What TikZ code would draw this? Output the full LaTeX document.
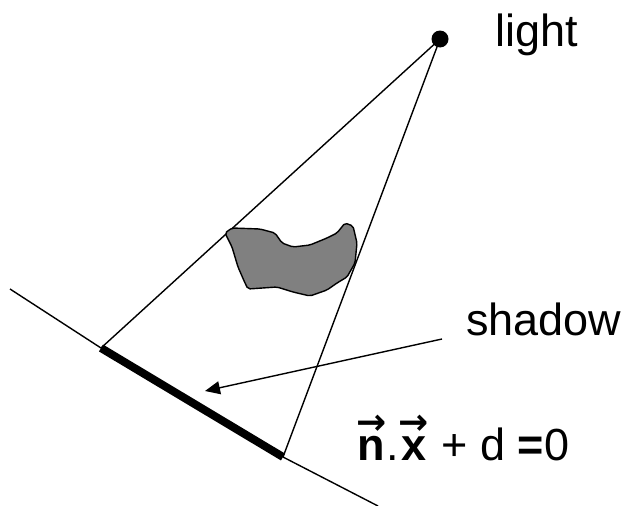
\documentclass[tikz,border=0pt]{standalone}
\usepackage{fontspec}
\setmainfont{Liberation Sans}
\newfontfamily\arrowfont{DejaVu Sans}
\usetikzlibrary{arrows.meta}
\newcommand{\vecb}[1]{\ooalign{\hfil\raisebox{26pt}{\arrowfont\bfseries\fontsize{36}{36}\selectfont →}\hfil\cr\hfil\textbf{#1}\hfil\cr}}

\begin{document}
\begin{tikzpicture}[
  x=1pt, y=-1pt,
  ray/.style={line width=1.4pt},
  label/.style={font=\fontsize{45}{50}\selectfont, inner sep=0pt},
  arrow/.style={-{Triangle[length=15pt, width=13pt]}, line width=1.4pt},
]
  \useasboundingbox (0,0) rectangle (632,506);

  % plane and shadow
  \coordinate (planeA) at (10,289);
  \coordinate (planeB) at (378,506);
  \coordinate (shadowA) at (101,348);
  \coordinate (shadowB) at (283,457);
  \draw[ray] (planeA) -- (shadowA);
  \draw[ray] (shadowB) -- (planeB);
  \draw[line width=8pt] (shadowA) -- (shadowB);

  % light source
  \node[circle, fill=black, inner sep=0pt, minimum size=17pt] (light) at (440,39) {};
  \node[label, anchor=base west] (lighttext) at (495,46) {light};
  \draw[ray] (light.center) -- (shadowA);
  \draw[ray] (light.center) -- (shadowB);

  % occluder
  \draw[ray, fill=black!50, rounded corners=2pt]
    (225,233) -- (232,228) -- (260,229) -- (275,233) -- (282,243) -- (293,247)
    -- (310,245) -- (327,238) -- (337,233) -- (345,223) -- (353,226) -- (357,243)
    -- (355,263) -- (347,277) -- (337,283) -- (327,290) -- (310,296) -- (293,292)
    -- (277,287) -- (248,289) -- (245,283) -- (238,267) -- (232,247) -- cycle;

  % labels
  \node[label, anchor=base west] (shadowtext) at (466,335) {shadow};
  \coordinate (arrowstart) at (442,339);
  \coordinate (arrowend) at (205,391);
  \draw[arrow] (arrowstart) -- (arrowend);
  \node[label, anchor=base west] (plane) at (356,460)
    {\vecb{n}.\vecb{x} + d \textbf{=}0};
\end{tikzpicture}
\end{document}
